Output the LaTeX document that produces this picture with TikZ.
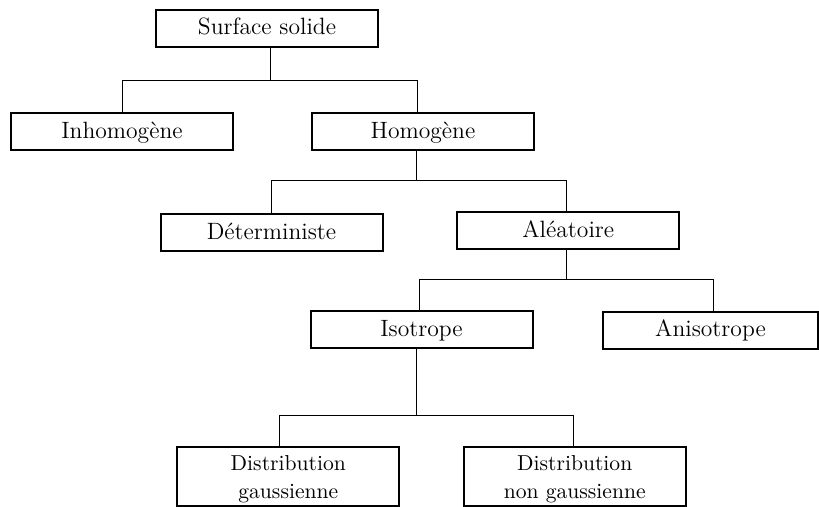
\documentclass[tikz,border=0pt]{standalone}
\usepackage{fontspec}
\begin{document}
\begin{tikzpicture}[x=0.5pt,y=-0.5pt,
  box/.style={draw,line width=1pt,inner sep=0pt,minimum width=111pt,minimum height=18.5pt,
    text height=8pt,text depth=1.3pt,font=\fontsize{11.8}{14}\selectfont},
  boxtwo/.style={draw,line width=1pt,inner sep=0pt,minimum width=111pt,minimum height=29.5pt,
    align=center,text height=21.5pt,text depth=0pt,font=\fontsize{10.8}{14}\selectfont},
  link/.style={line width=0.5pt}]
\useasboundingbox (0,0) rectangle (819,507);
\node[box] (surf) at (267,28.1) {Surface solide};
\node[box] (inh) at (122,131.4) {Inhomogène};
\node[box] (hom) at (423,131.7) {Homogène};
\node[box] (det) at (271.5,232.5) {Déterministe};
\node[box] (alea) at (568.3,230.8) {Aléatoire};
\node[box] (iso) at (421.5,330) {Isotrope};
\node[box,minimum width=107.5pt] (aniso) at (710.5,330.3) {Anisotrope};
\node[boxtwo] (gauss) at (288.3,476.5) {Distribution\\gaussienne};
\node[boxtwo] (ngauss) at (574.7,476.5) {Distribution\\non gaussienne};
\coordinate (j1) at (270.7,80.7);
\coordinate (j2) at (416.7,181);
\coordinate (j3) at (566,280);
\coordinate (j4) at (416.7,415.7);
\draw[link] (j1 |- surf.south) -- (j1);
\draw[link] (inh.north) |- (j1);
\draw[link] ([xshift=-3pt]hom.north) |- (j1);
\draw[link] (j2 |- hom.south) -- (j2);
\draw[link] (det.north) |- (j2);
\draw[link] ([xshift=-1.15pt]alea.north) |- (j2);
\draw[link] (j3 |- alea.south) -- (j3);
\draw[link] ([xshift=-1.25pt]iso.north) |- (j3);
\draw[link] ([xshift=1.25pt]aniso.north) |- (j3);
\draw[link] (j4 |- iso.south) -- (j4);
\draw[link] ([xshift=-4.65pt]gauss.north) |- (j4);
\draw[link] ([xshift=-0.85pt]ngauss.north) |- (j4);
\end{tikzpicture}
\end{document}
